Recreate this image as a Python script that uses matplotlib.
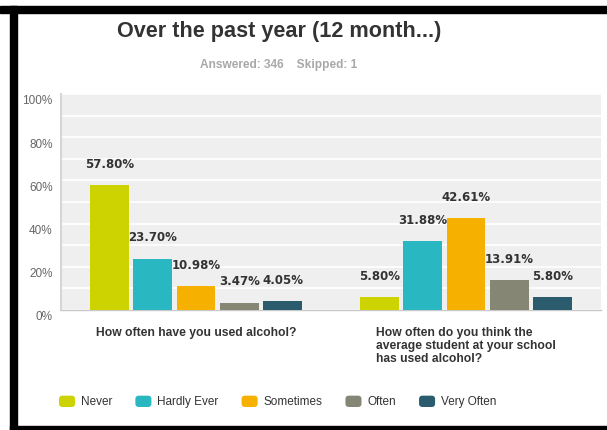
import matplotlib
matplotlib.use("Agg")
import matplotlib.pyplot as plt
import matplotlib.transforms as mtransforms
from matplotlib.patches import Patch, Rectangle, FancyBboxPatch
from matplotlib.legend_handler import HandlerPatch

# ---------------- Data ----------------
questions = [
    "How often have you used alcohol?",
    "How often do you think the\naverage student at your school\nhas used alcohol?",
]
answers = ["Never", "Hardly Ever", "Sometimes", "Often", "Very Often"]
own_use = [57.80, 23.70, 10.98, 3.47, 4.05]
peer_use = [5.80, 31.88, 42.61, 13.91, 5.80]
colors = ["#ccd300", "#29b8c1", "#f6b100", "#868675", "#2b5c6d"]
y_ticks = [0, 20, 40, 60, 80, 100]

title = "Over the past year (12 month...)"
subtitle = "Answered: 346    Skipped: 1"

plt.rcParams["font.family"] = ["Liberation Sans", "DejaVu Sans"]

W, H = 607, 430
fig = plt.figure(figsize=(W / 100, H / 100), dpi=100)

# ---------------- Frame ----------------
fig.patches.append(Rectangle((0, 1 - 13 / H), 1, 7 / H, transform=fig.transFigure, color="black"))
fig.patches.append(Rectangle((10 / W, 0), 7 / W, 1 - 6 / H, transform=fig.transFigure, color="black"))
fig.patches.append(Rectangle((10 / W, 0), 1, 4 / H, transform=fig.transFigure, color="black"))

fig.text(279 / W, 1 - 32 / H, title, ha="center", va="center",
         fontsize=15.6, fontweight="bold", color="#333333")
fig.text(279 / W, 1 - 65 / H, subtitle, ha="center", va="center",
         fontsize=8.6, fontweight="bold", color="#a8a8a8")

# ---------------- Axes ----------------
ax = fig.add_axes([61 / W, 120 / H, 540 / W, 216 / H])
ax.set_facecolor("#efefef")
ax.set_xlim(-0.5, 1.5)
ax.set_ylim(0, 100)

ax.set_yticks(y_ticks)
ax.set_yticklabels([f"{t}%" for t in y_ticks], fontsize=8.5, color="#666666")
ax.set_yticks(range(10, 100, 20), minor=True)
ax.grid(True, which="both", axis="y", color="white", linewidth=1.2)
ax.set_axisbelow(True)
ax.tick_params(axis="y", which="both", length=0, pad=6)
ax.set_xticks([])

# labels sit a little below their gridline in the original
shift = mtransforms.ScaledTranslation(0, -6 / 100, fig.dpi_scale_trans)
for lbl in ax.get_yticklabels():
    lbl.set_transform(lbl.get_transform() + shift)

for side in ["top", "right"]:
    ax.spines[side].set_visible(False)
ax.spines["left"].set_color("#d6d6d6")
ax.spines["left"].set_linewidth(1.5)
ax.spines["bottom"].set_color("#c8c8c8")
ax.spines["bottom"].set_linewidth(1)

step = 0.1605
width = 0.1444
for qi, values in enumerate([own_use, peer_use]):
    for i, v in enumerate(values):
        x = qi + (i - 2) * step
        ax.bar(x, v, width=width, color=colors[i], edgecolor="none", zorder=3)
        ax.annotate(f"{v:.2f}%", (x, v), xytext=(0, 15), textcoords="offset points",
                    ha="center", va="center", fontsize=8.5, fontweight="bold",
                    color="#333333", family="DejaVu Sans", zorder=4)

for qi, q in enumerate(questions):
    ax.annotate(q, (qi, 0), xycoords=("data", "axes fraction"),
                xytext=(0, -12), textcoords="offset points",
                ha="center", va="top", multialignment="left", linespacing=1.12,
                fontsize=8.7, fontweight="bold", color="#333333")


# ---------------- Legend ----------------
class RoundHandler(HandlerPatch):
    def create_artists(self, legend, orig_handle, xdescent, ydescent,
                       width, height, fontsize, trans):
        p = FancyBboxPatch((-xdescent, -ydescent), width, height,
                           boxstyle="round,pad=0,rounding_size=2.5",
                           fc=orig_handle.get_facecolor(), ec="none", transform=trans)
        return [p]


handles = [Patch(facecolor=c, label=a) for a, c in zip(answers, colors)]
fig.legend(handles=handles, loc="center left", bbox_to_anchor=(59 / W, 1 - 402 / H),
           ncol=5, frameon=False, fontsize=8.5, borderpad=0, borderaxespad=0,
           handlelength=1.36, handleheight=1.1, handletextpad=0.5, columnspacing=1.95,
           labelcolor="#333333", handler_map={Patch: RoundHandler()})

fig.savefig("out.png", dpi=100)
